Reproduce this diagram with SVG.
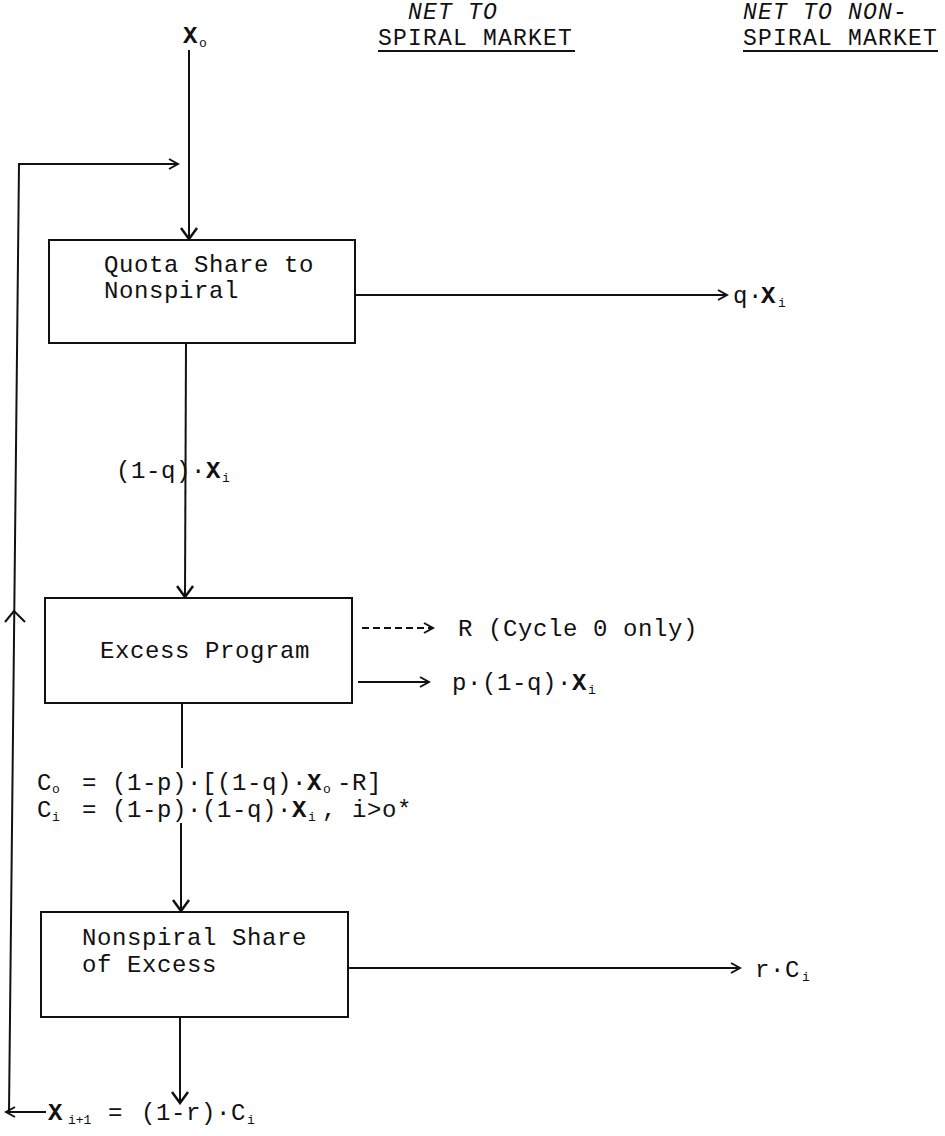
<svg xmlns="http://www.w3.org/2000/svg" width="945" height="1136" viewBox="0 0 945 1136">
<style>
text{font-family:"Liberation Mono","Courier New",monospace;font-size:24px;letter-spacing:0.6px;fill:#111}
.b{font-weight:bold}
.s{font-size:13px;letter-spacing:0}
.it{font-style:italic}
.h{font-size:23px;letter-spacing:1.2px}
.box{fill:none;stroke:#111;stroke-width:2}
.ln{fill:none;stroke:#111;stroke-width:2}
.dash{stroke-dasharray:7 4}
</style>
<defs>
<marker id="chev" viewBox="0 0 12 12" refX="10" refY="6" markerWidth="12" markerHeight="12" markerUnits="userSpaceOnUse" orient="auto">
<path d="M1,1 L10,6 L1,11" fill="none" stroke="#111" stroke-width="2"/>
</marker>
<marker id="vhead" viewBox="0 0 14 20" refX="12" refY="10" markerWidth="14" markerHeight="20" markerUnits="userSpaceOnUse" orient="auto">
<path d="M1,2 L12,10 L1,18" fill="none" stroke="#111" stroke-width="2.5"/>
</marker>
</defs>
<g id="headers">
<text class="it h" x="408" y="19">NET TO</text>
<text class="h" x="378" y="45">SPIRAL MARKET</text>
<line class="ln" x1="378" y1="51" x2="575" y2="51"/>
<text class="it h" x="743" y="19">NET TO NON-</text>
<text class="h" x="743" y="45">SPIRAL MARKET</text>
<line class="ln" x1="743" y1="51" x2="938" y2="51"/>
</g>
<g id="input"><text x="183" y="43"><tspan class="b">X</tspan><tspan class="s" x="199" y="47">o</tspan></text></g>
<g id="quota">
<rect class="box" x="49" y="240" width="306" height="103"/>
<text x="104" y="272">Quota Share to</text>
<text x="104" y="298">Nonspiral</text>
</g>
<g id="excess">
<rect class="box" x="45" y="598" width="307" height="105"/>
<text x="100" y="658">Excess Program</text>
</g>
<g id="nonspiral">
<rect class="box" x="41" y="912" width="307" height="105"/>
<text x="82" y="945">Nonspiral Share</text>
<text x="82" y="972">of Excess</text>
</g>
<g id="connectors">
<line class="ln" x1="189" y1="50" x2="189" y2="239" marker-end="url(#vhead)"/>
<path class="ln" d="M9,1112 L19,164 L178,164" marker-end="url(#chev)"/>
<polyline class="ln" points="5,622 14,611 25,622"/>
<line class="ln" x1="46" y1="1112" x2="6" y2="1112" marker-end="url(#chev)"/>
<line class="ln" x1="355" y1="295" x2="727" y2="295" marker-end="url(#chev)"/>
<line class="ln" x1="186" y1="343" x2="185" y2="597" marker-end="url(#vhead)"/>
<line class="ln dash" x1="362" y1="628" x2="432" y2="628"/>
<polyline class="ln" points="424,623 433,628 424,633"/>
<line class="ln" x1="358" y1="682" x2="429" y2="682" marker-end="url(#chev)"/>
<line class="ln" x1="182" y1="703" x2="182" y2="768"/>
<line class="ln" x1="181" y1="823" x2="181" y2="911" marker-end="url(#vhead)"/>
<line class="ln" x1="348" y1="968" x2="740" y2="968" marker-end="url(#chev)"/>
<line class="ln" x1="180" y1="1017" x2="180" y2="1103" marker-end="url(#vhead)"/>
</g>
<g id="labels">
<text x="116" y="478">(1-q)·<tspan class="b" x="206">X</tspan><tspan class="s" x="222" y="482">i</tspan></text>
<text x="733" y="303">q·<tspan class="b" x="761">X</tspan><tspan class="s" x="778" y="307">i</tspan></text>
<text x="458" y="636">R (Cycle 0 only)</text>
<text x="452" y="690">p·(1-q)·<tspan class="b" x="572">X</tspan><tspan class="s" x="588" y="694">i</tspan></text>
<text x="37" y="790">C<tspan class="s" x="52" y="793">o</tspan><tspan x="67" y="790"> = (1-p)·[(1-q)·</tspan><tspan class="b" x="307">X</tspan><tspan class="s" x="323" y="793">o</tspan><tspan x="337" y="790">-R]</tspan></text>
<text x="37" y="817">C<tspan class="s" x="52" y="821">i</tspan><tspan x="67" y="817"> = (1-p)·(1-q)·</tspan><tspan class="b" x="292">X</tspan><tspan class="s" x="308" y="821">i</tspan><tspan x="322" y="817">, i&gt;o*</tspan></text>
<text x="755" y="977">r·C<tspan class="s" x="802" y="981">i</tspan></text>
<text x="48" y="1120"><tspan class="b">X</tspan><tspan class="s" x="68" y="1124">i+1</tspan><tspan x="93" y="1120"> = </tspan><tspan x="141">(1-r)·C</tspan><tspan class="s" x="247" y="1124">i</tspan></text>
</g>
</svg>
